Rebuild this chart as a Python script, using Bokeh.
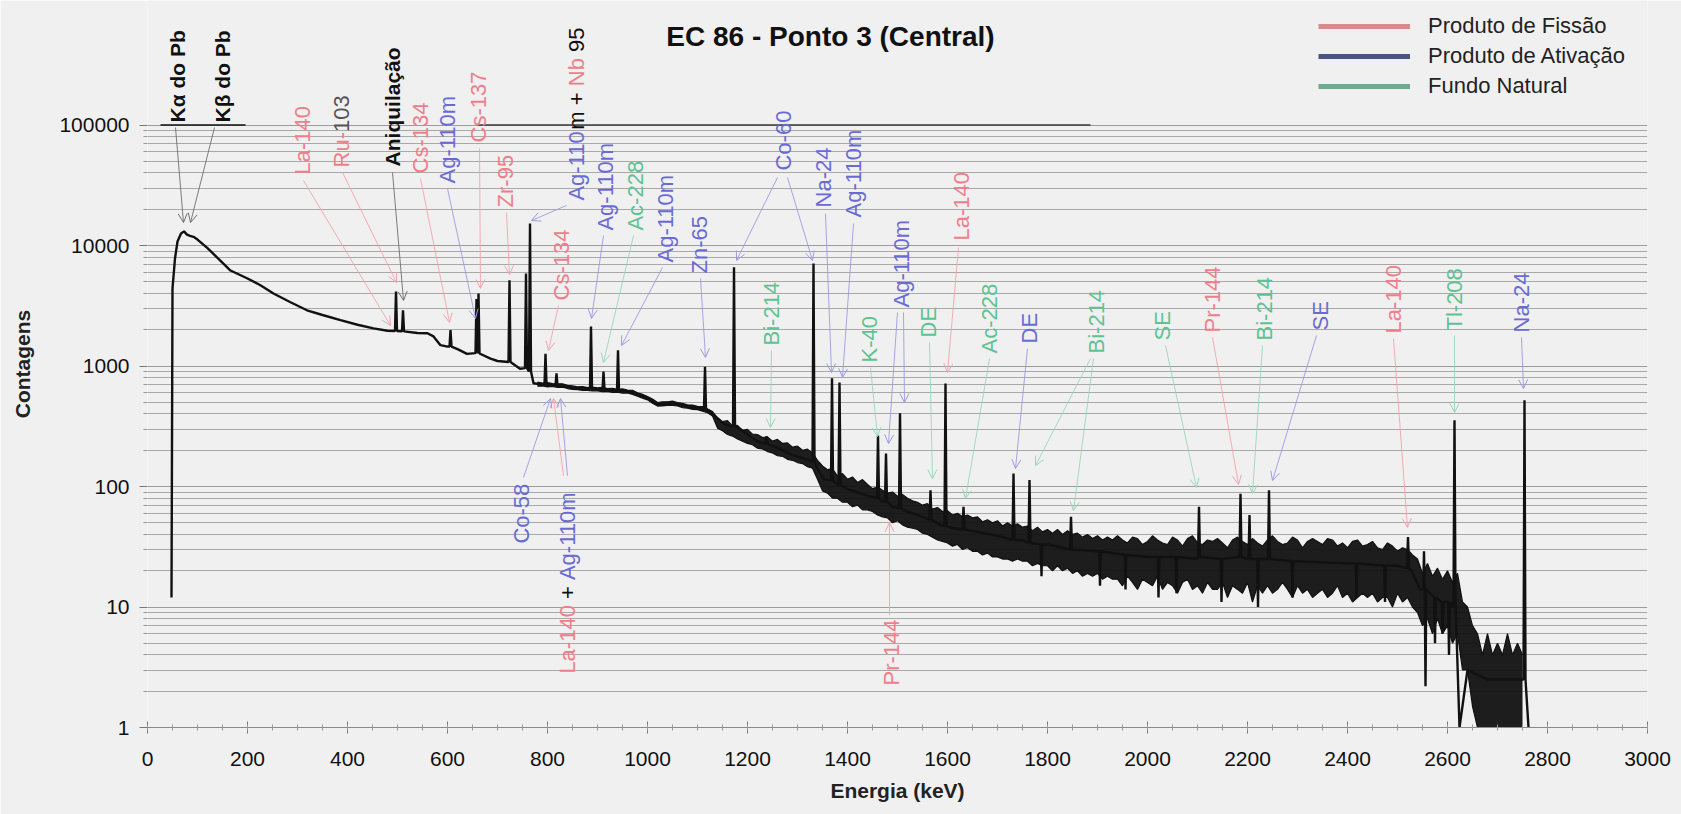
import numpy as np
from math import pi
from bokeh.plotting import figure
from bokeh.models import (Range1d, FixedTicker, SingleIntervalTicker, Arrow, OpenHead,
                          Legend, LegendItem, ColumnDataSource, NumeralTickFormatter)
from bokeh.core.properties import value
from bokeh.embed import file_html
from bokeh.resources import INLINE

# ---------------- data ----------------
cont_e = [48, 50, 55, 60, 67, 73, 79, 85, 92, 100, 110, 120, 140, 166, 199, 225, 252, 285, 319,
          350, 386, 420, 452, 480, 540, 560, 572, 586, 600, 620, 639, 686, 700, 745, 772, 790,
          805, 830, 852, 900, 925, 960, 973, 1000, 1019, 1053, 1080, 1100, 1125, 1153, 1165,
          1185, 1219, 1260, 1286, 1310, 1325, 1340, 1353, 1378, 1400, 1419, 1440, 1470, 1490,
          1519, 1540, 1586, 1613, 1660, 1686, 1710, 1750, 1800, 1900, 2000, 2100, 2200, 2300,
          2400, 2500, 2528, 2545, 2600, 2610, 2624, 2640, 2680, 2720, 2748, 2762]
cont_c = [12, 4400, 7800, 10800, 12600, 13100, 12300, 12000, 11800, 11200, 10300, 9500, 7900,
          6200, 5350, 4700, 4000, 3400, 2900, 2650, 2400, 2200, 2050, 1960, 1880, 1870, 1760,
          1490, 1450, 1380, 1260, 1150, 1100, 950, 720, 700, 695, 685, 655, 640, 630, 615, 600,
          540, 480, 490, 460, 448, 420, 330, 318, 300, 238, 210, 185, 172, 165, 140, 115, 105,
          95, 90, 84, 75, 68, 62, 58, 48, 45, 42, 40, 38, 36, 33, 29, 26, 25, 25, 24, 23, 22,
          20, 14, 11, 10, 1, 3, 2.5, 2.5, 2.5, 1]

peak_e = [497, 511, 606, 658, 662, 724, 757, 765, 796, 818, 887, 912, 941, 1115, 1173, 1238,
          1332, 1369, 1384, 1461, 1477, 1505, 1566, 1596, 1632, 1732, 1764, 1847, 2103, 2186,
          2204, 2243, 2521, 2614, 2754]
peak_h = [4150, 2900, 1990, 3600, 4000, 5150, 5850, 15200, 1260, 870, 2130, 900, 1350, 985,
          6600, 260, 7100, 790, 730, 265, 188, 405, 93, 715, 68, 128, 113, 56, 68, 87, 58, 93,
          38, 355, 520]
peak_foot = [1950, 1940, 1450, 1280, 1270, 1080, 960, 900, 700, 690, 650, 635, 625, 440, 315,
             225, 160, 112, 103, 80, 75, 66, 53, 47, 44, 36, 34, 30, 26, 26, 25, 25, 21, 11, 2.5]

spike_e = [1788, 1905, 1956, 2022, 2058, 2148, 2221, 2290, 2418, 2475, 2553, 2556, 2575, 2590,
           2603]
spike_c = [18, 15, 14, 12, 13, 11, 10, 12, 12, 11, 29, 2.2, 5, 6, 4]
spike_foot = [33, 29, 27, 26, 26, 25, 25, 24, 23, 22, 14, 14, 12, 11, 11]

band_e = list(range(780, 2760, 10))
band_hi = [735, 722, 730, 715, 712, 712, 690, 684, 672, 676, 662, 668, 660, 664, 650, 652,
           640, 645, 632, 628, 600, 582, 558, 532, 498, 505, 505, 512, 498, 490, 476, 474,
           462, 460, 440, 418,
           370, 345, 352, 318, 322, 292, 298, 272, 270, 255,
           258, 238, 246, 228, 230, 212, 216, 200, 204, 190,
           165, 148, 138, 140, 122, 128, 115, 120, 108, 114,
           104, 96, 99, 93, 88, 90, 83, 86, 80, 76,
           74, 70, 72, 65, 67, 62, 63, 58, 60, 56,
           58, 55, 56, 51, 53, 50, 52, 47, 50, 47,
           49, 46, 47, 43, 46, 42, 44, 41, 44, 40,
           43, 40, 41, 38, 40, 37, 39, 36, 38, 36,
           39, 36, 34, 38, 37, 33, 35, 39, 36, 34,
           33, 38, 36, 32, 37, 39, 34, 33, 36, 35,
           37, 34, 31, 36, 38, 35, 33, 37, 34, 32,
           36, 39, 35, 33, 34, 38, 36, 31, 35, 37,
           35, 33, 37, 36, 32, 34, 31, 35, 36, 32,
           33, 35, 31, 30, 34, 32, 29, 31, 30, 27,
           25, 19, 23, 18, 21, 17, 20, 16, 19, 11,
           10, 7, 6, 4, 6, 4, 5, 4, 6, 4, 5, 4]
band_lo = [680, 684, 670, 676, 664, 668, 650, 640, 636, 628, 628, 620, 622, 612, 616, 604,
           606, 596, 598, 582, 562, 540, 524, 490, 465, 466, 472, 470, 466, 452, 446, 436,
           434, 422, 410, 384,
           305, 290, 270, 262, 248, 238, 228, 222, 208, 205,
           195, 190, 180, 178, 168, 165, 158, 155, 146, 142,
           115, 92, 88, 80, 80, 74, 74, 68, 70, 64,
           64, 62, 58, 56, 55, 50, 52, 48, 46, 45,
           44, 41, 40, 38, 36, 35, 34, 32, 33, 30,
           31, 29, 29, 27, 28, 26, 26, 25, 25, 24,
           25, 24, 24, 22, 23, 22, 22, 20, 22, 20,
           21, 19, 20, 18, 19, 18, 19, 17, 18, 17,
           17, 15, 18, 16, 14, 17, 16, 15, 18, 14,
           16, 15, 13, 16, 17, 14, 15, 13, 16, 14,
           14, 16, 12, 15, 14, 13, 16, 11, 15, 13,
           15, 13, 14, 16, 14, 12, 15, 13, 14, 12,
           13, 14, 12, 13, 15, 12, 13, 11, 12, 13,
           12, 13, 11, 12, 12, 10, 13, 11, 12, 10,
           9, 7, 8, 6, 8, 6, 7, 5, 6, 3,
           3, 1.5, 1, 1, 1, 1, 1, 1, 1, 1, 1, 1]
assert len(band_e) == len(band_hi) == len(band_lo), (len(band_e), len(band_hi), len(band_lo))
assert len(cont_e) == len(cont_c)
assert len(peak_e) == len(peak_h) == len(peak_foot)
assert len(spike_e) == len(spike_c) == len(spike_foot)

y_ticks = [1, 10, 100, 1000, 10000, 100000]

# ---------------- annotations (labels / arrows, in data units) ----------------
COL = {'k': '#111111', 'f': '#ee7f8a', 'a': '#6a6ad4', 'n': '#5fc292', 'g': '#555555'}
ACOL = {'k': '#6f6f6f', 'f': '#f2a5ad', 'a': '#9c9ce0', 'n': '#9ad8b8'}

labels = [
    ([("Kα do Pb", 'k')], 60, 1.05e5),
    ([("Kβ do Pb", 'k')], 150, 1.05e5),
    ([("La-140", 'f')], 310, 38800),
    ([("Ru-", 'f'), ("103", 'g')], 388, 44400),
    ([("Aniquilação", 'k')], 490, 45300),
    ([("Cs-134", 'f')], 546, 39600),
    ([("Ag-110m", 'a')], 600, 32700),
    ([("Cs-137", 'f')], 662, 71600),
    ([("Zr-95", 'f')], 716, 20700),
    ([("Ag-110", 'a'), ("m + ", 'k'), ("Nb ", 'f'), ("95", 'k')], 858, 23600),
    ([("Cs-134", 'f')], 828, 3500),
    ([("Ag-110m", 'a')], 916, 13300),
    ([("Ac-228", 'n')], 976, 13300),
    ([("Ag-110m", 'a')], 1036, 7230),
    ([("Zn-65", 'a')], 1104, 5860),
    ([("Co-60", 'a')], 1272, 41900),
    ([("Na-24", 'a')], 1352, 20700),
    ([("Ag-110m", 'a')], 1412, 17100),
    ([("Ag-110m", 'a')], 1508, 3060),
    ([("Bi-214", 'n')], 1248, 1480),
    ([("K-40", 'n')], 1444, 1070),
    ([("DE", 'n')], 1562, 1725),
    ([("La-140", 'f')], 1628, 11000),
    ([("Ac-228", 'n')], 1684, 1270),
    ([("DE", 'a')], 1764, 1537),
    ([("Bi-214", 'n')], 1898, 1270),
    ([("SE", 'n')], 2030, 1628),
    ([("Pr-144", 'f')], 2130, 1897),
    ([("Bi-214", 'n')], 2234, 1628),
    ([("SE", 'a')], 2346, 1970),
    ([("La-140", 'f')], 2492, 1860),
    ([("Tl-208", 'n')], 2614, 1970),
    ([("Na-24", 'a')], 2748, 1900),
    ([("Co-58", 'a')], 748, 33.6),
    ([("La-140", 'f'), (" + ", 'k'), ("Ag-110m", 'a')], 840, 2.8),
    ([("Pr-144", 'f')], 1488, 2.23),
]

arrows = {
    'k': [(56, 95300, 72, 15500), (134, 95300, 86, 15500), (490, 40400, 512, 3500)],
    'f': [(312, 34600, 486, 2170), (390, 40400, 498, 4930), (546, 36000, 604, 2300),
          (664, 63800, 666, 4400), (718, 18800, 724, 5750), (822, 3180, 802, 1345),
          (1622, 9620, 1600, 883), (2130, 1725, 2182, 104), (2492, 1690, 2520, 45.7),
          (1484, 8.5, 1484, 50), (832, 123, 812, 537)],
    'a': [(600, 29700, 656, 2480), (838, 21500, 768, 16100), (912, 12100, 888, 2480),
          (1030, 6570, 948, 1480), (1106, 5320, 1116, 1177), (1260, 36700, 1178, 7510),
          (1280, 36700, 1330, 7510), (1356, 18400, 1368, 883), (1412, 15200, 1390, 803),
          (1500, 2780, 1482, 227), (1512, 2780, 1514, 498), (1760, 1397, 1736, 141),
          (2338, 1791, 2250, 112), (2748, 1725, 2752, 650), (752, 119, 806, 537),
          (840, 123, 826, 537)],
    'n': [(972, 12100, 912, 1070), (1248, 1345, 1246, 309), (1446, 972, 1460, 260),
          (1564, 1567, 1570, 116), (1684, 1153, 1636, 79.5), (1892, 1153, 1852, 63),
          (1886, 1153, 1776, 149), (2036, 1480, 2098, 98), (2230, 1480, 2210, 87.5),
          (2614, 1791, 2614, 411)],
}

# ---------------- build spectrum line ----------------
pts = list(zip(cont_e, cont_c))
for e, h, f in zip(peak_e, peak_h, peak_foot):
    pts += [(e - 2, f), (e, h), (e + 2, f)]
for e, h, f in zip(spike_e, spike_c, spike_foot):
    pts += [(e - 1.5, f), (e, h), (e + 1.5, f)]
pts.sort(key=lambda t: t[0])
line_e = [p_[0] for p_ in pts]
line_c = [p_[1] for p_ in pts]

# ---------------- figure ----------------
FONT = "Liberation Sans"
BG = "#f0f0f0"
frame_h = 727
top = 10 ** (frame_h / 120.5)

p = figure(width=1681, height=814, y_axis_type="log",
           x_range=Range1d(0, 3000), y_range=Range1d(1, top),
           output_backend="svg", toolbar_location=None, title_location=None,
           min_border_left=147, min_border_right=34, min_border_top=0, min_border_bottom=87,
           background_fill_color=BG, border_fill_color=BG, outline_line_color=None)

minor = [k * 10 ** d for d in range(0, 5) for k in range(2, 10)]
yt = FixedTicker(ticks=y_ticks, minor_ticks=minor)
p.yaxis.ticker = yt
p.ygrid.ticker = yt
p.yaxis.formatter = NumeralTickFormatter(format="0")
p.ygrid.grid_line_color = "#9c9c9c"
p.ygrid.minor_grid_line_color = "#a8a8a8"
p.ygrid.grid_line_width = 1
p.ygrid.bounds = (1, 100000)
p.xgrid.visible = False

p.xaxis.ticker = SingleIntervalTicker(interval=200, num_minor_ticks=4)

for ax in (p.xaxis, p.yaxis):
    ax.major_label_text_font = FONT
    ax.major_label_text_font_size = "21px"
    ax.major_label_text_color = "#111111"
    ax.axis_label_text_font = FONT
    ax.axis_label_text_font_size = "21px"
    ax.axis_label_text_font_style = "bold"
    ax.axis_label_text_color = "#222222"
    ax.major_tick_line_color = "#777777"
    ax.minor_tick_line_color = "#999999"

p.xaxis.axis_label = "Energia (keV)"
p.yaxis.axis_label = "Contagens"
p.xaxis.axis_line_color = "#8a8a8a"
p.xaxis.major_tick_in = 6
p.xaxis.major_tick_out = 6
p.xaxis.minor_tick_in = 3
p.xaxis.minor_tick_out = 3
p.xaxis.major_label_standoff = 18
p.xaxis.axis_label_standoff = 10
p.yaxis.axis_line_color = None
p.yaxis.major_tick_in = 0
p.yaxis.major_tick_out = 8
p.yaxis.minor_tick_in = 0
p.yaxis.minor_tick_out = 4
p.yaxis.major_label_standoff = 10
p.yaxis.axis_label_standoff = 22

# frame top border remnants at 1e5
p.segment(x0=[26, 660], y0=[1e5, 1e5], x1=[196, 1886], y1=[1e5, 1e5],
          line_color=["#111111", "#3a3a3a"], line_width=1.5)

# spectrum
p.varea(x=band_e, y1=band_lo, y2=band_hi, fill_color="#111111", fill_alpha=0.95)
p.line(band_e, band_hi, line_color="#111111", line_width=1.2)
p.line(band_e, band_lo, line_color="#111111", line_width=1.2)
p.line(line_e, line_c, line_color="#111111", line_width=2.4)

# arrows
for kind, lst in arrows.items():
    src = ColumnDataSource(dict(x0=[a[0] for a in lst], y0=[a[1] for a in lst],
                                x1=[a[2] for a in lst], y1=[a[3] for a in lst]))
    p.add_layout(Arrow(source=src, x_start="x0", y_start="y0", x_end="x1", y_end="y1",
                       line_color=ACOL[kind], line_width=1, line_alpha=0.9,
                       end=OpenHead(size=9, line_color=ACOL[kind], line_width=1)))

# labels
AW = {'A': 667, 'C': 722, 'K': 667, 'L': 556, 'N': 722, 'P': 667, 'R': 722, 'S': 667,
      'T': 611, 'Z': 611, 'a': 556, 'b': 556, 'c': 500, 'd': 556, 'e': 556, 'g': 556,
      'i': 222, 'l': 222, 'm': 833, 'n': 556, 'o': 556, 'q': 556, 'r': 333, 's': 500,
      't': 278, 'u': 556, '-': 333, '+': 584, ' ': 278}


def tw(s, size):
    return sum(AW.get(ch, 556) for ch in s) / 1000.0 * size


rows = dict(x=[], y=[], text=[], color=[], yoff=[], style=[], size=[])
for pieces, ex, cy in labels:
    off = 0.0
    for txt, kind in pieces:
        bold = (kind == 'k' and len(pieces) == 1)
        size = 21 if bold else 22
        lead = txt[:len(txt) - len(txt.lstrip())]
        rows['x'].append(ex)
        rows['y'].append(cy)
        rows['text'].append(txt.strip())
        rows['color'].append(COL[kind])
        rows['yoff'].append(-(off + tw(lead, size)))
        rows['style'].append("bold" if bold else "normal")
        rows['size'].append(f"{size}px")
        off += tw(txt, size)
lsrc = ColumnDataSource(rows)
p.text(x="x", y="y", text="text", source=lsrc, angle=pi / 2, text_align="left",
       text_baseline="middle", text_color="color", y_offset="yoff",
       text_font_style="style", text_font_size="size", text_font=value(FONT))

# title
p.text(x=[1366], y=[5.4e5], text=["EC 86 - Ponto 3 (Central)"], text_align="center",
       text_baseline="middle", text_font=value(FONT), text_font_size="28px",
       text_font_style="bold", text_color="#111111")

# legend (renderers placed outside the visible x range; only their legend glyphs show)
r1 = p.line(x=[-500, -400], y=[10, 10], line_color="#d98a8a", line_width=5)
r2 = p.line(x=[-500, -400], y=[10, 10], line_color="#485680", line_width=5)
r3 = p.line(x=[-500, -400], y=[10, 10], line_color="#6fa88c", line_width=5)
leg = Legend(items=[LegendItem(label="Produto de Fissão", renderers=[r1]),
                    LegendItem(label="Produto de Ativação", renderers=[r2]),
                    LegendItem(label="Fundo Natural", renderers=[r3])],
             location=(1171, 626), background_fill_alpha=0, border_line_color=None,
             label_text_font=FONT, label_text_font_size="22px", label_text_color="#222222",
             glyph_width=92, glyph_height=30, label_height=30, label_standoff=18,
             padding=0, spacing=0, margin=0)
p.add_layout(leg)

open("out.html", "w").write(file_html(p, INLINE))
